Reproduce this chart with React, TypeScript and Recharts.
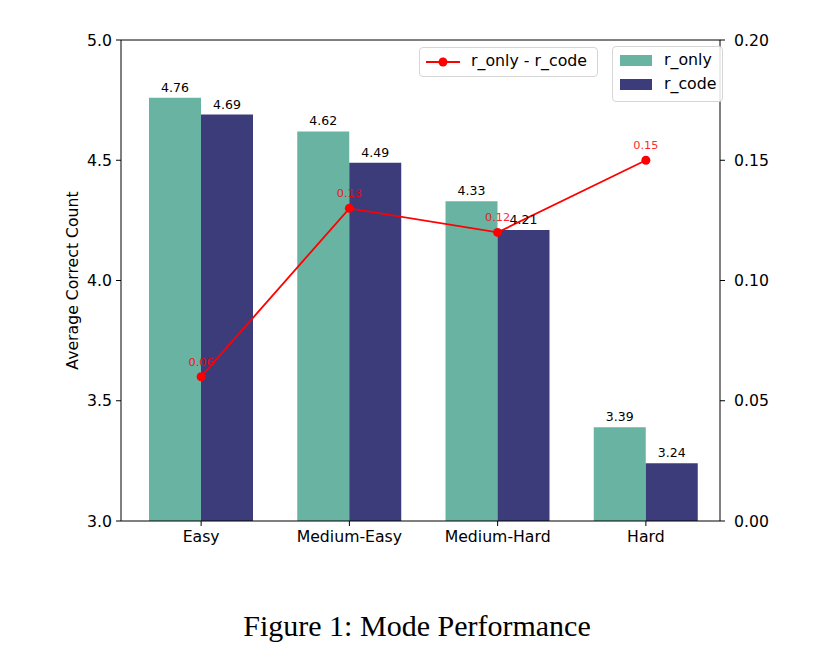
import React from 'react';
import {
  ComposedChart,
  Bar,
  Line,
  XAxis,
  YAxis,
  LabelList,
  Legend,
  ReferenceLine,
} from 'recharts';

const categories = ['Easy', 'Medium-Easy', 'Medium-Hard', 'Hard'];
const rOnly = [4.76, 4.62, 4.33, 3.39];
const rCode = [4.69, 4.49, 4.21, 3.24];
const diff = [0.06, 0.13, 0.12, 0.15];
const leftTicks = [3.0, 3.5, 4.0, 4.5, 5.0];
const rightTicks = [0, 0.05, 0.1, 0.15, 0.2];

const data = categories.map((c, i) => ({
  name: c,
  r_only: rOnly[i],
  r_code: rCode[i],
  diff: diff[i],
}));

const GREEN = '#69b3a2';
const NAVY = '#3d3c7b';
const RED = '#ff0000';
const FONT = '"DejaVu Sans", sans-serif';
const TICK_FS = 15.7;

const YLabel = (props: any) => {
  const vb = props.viewBox || { x: 53, y: 32, width: 60, height: 481 };
  const cx = vb.x + 11.5;
  const cy = vb.y + vb.height / 2;
  return (
    <text
      x={cx}
      y={cy}
      transform={`rotate(-90 ${cx} ${cy})`}
      textAnchor="middle"
      dominantBaseline="central"
      fontSize={TICK_FS}
      fontFamily={FONT}
      fill="#000"
    >
      Average Correct Count
    </text>
  );
};

const legendText: React.CSSProperties = {
  position: 'absolute',
  fontFamily: FONT,
  fontSize: 15.8,
  color: '#000',
  lineHeight: '18px',
  whiteSpace: 'nowrap',
};

const renderLegend = () => (
  <div style={{ position: 'relative', width: 0, height: 0 }}>
    <div
      style={{
        position: 'absolute',
        left: 411,
        top: 39,
        width: 177,
        height: 28,
        border: '1px solid #d6d6d6',
        borderRadius: 4,
        background: 'rgba(255,255,255,0.85)',
      }}
    >
      <svg style={{ position: 'absolute', left: 0, top: 0 }} width={50} height={28}>
        <line x1={6} y1={14} x2={40} y2={14} stroke={RED} strokeWidth={1.8} />
        <circle cx={23} cy={14} r={4.5} fill={RED} />
      </svg>
      <span style={{ ...legendText, left: 51, top: 4 }}>r_only - r_code</span>
    </div>
    <div
      style={{
        position: 'absolute',
        left: 604,
        top: 38,
        width: 109,
        height: 54,
        border: '1px solid #d6d6d6',
        borderRadius: 4,
        background: 'rgba(255,255,255,0.85)',
      }}
    >
      <div style={{ position: 'absolute', left: 7, top: 8, width: 32, height: 11, background: GREEN }} />
      <div style={{ position: 'absolute', left: 7, top: 32, width: 32, height: 11, background: NAVY }} />
      <span style={{ ...legendText, left: 51, top: 4 }}>r_only</span>
      <span style={{ ...legendText, left: 51, top: 28 }}>r_code</span>
    </div>
  </div>
);

export default function App() {
  return (
    <div style={{ position: 'relative', width: 813, height: 654, background: '#fff' }}>
      <ComposedChart
        width={813}
        height={580}
        data={data}
        margin={{ top: 32, right: 41, left: 53, bottom: 37 }}
        barGap={0}
      >
        <XAxis
          dataKey="name"
          height={30}
          padding={{ left: 6, right: 0 }}
          tickSize={5}
          tickMargin={5}
          axisLine={{ stroke: '#000' }}
          tickLine={{ stroke: '#000' }}
          tick={{ fill: '#000', fontSize: TICK_FS, fontFamily: FONT }}
        />
        <YAxis
          yAxisId="left"
          orientation="left"
          width={60}
          domain={[3, 5]}
          ticks={leftTicks}
          allowDataOverflow
          tickFormatter={(v: number) => v.toFixed(1)}
          tickSize={5}
          tickMargin={4}
          axisLine={{ stroke: '#000' }}
          tickLine={{ stroke: '#000' }}
          tick={{ fill: '#000', fontSize: TICK_FS, fontFamily: FONT }}
          label={<YLabel />}
        />
        <YAxis
          yAxisId="right"
          orientation="right"
          width={60}
          domain={[0, 0.2]}
          ticks={rightTicks}
          tickFormatter={(v: number) => v.toFixed(2)}
          tickSize={5}
          tickMargin={9}
          axisLine={{ stroke: '#000' }}
          tickLine={{ stroke: '#000' }}
          tick={{ fill: '#000', fontSize: TICK_FS, fontFamily: FONT, textAnchor: 'start' }}
        />
        <ReferenceLine yAxisId="left" y={5} stroke="#000" strokeWidth={1} />
        <Bar yAxisId="left" dataKey="r_only" fill={GREEN} barSize={52} isAnimationActive={false}>
          <LabelList
            dataKey="r_only"
            position="top"
            offset={6}
            formatter={(v: any) => Number(v).toFixed(2)}
            style={{ fill: '#000', fontSize: 12.5, fontFamily: FONT }}
          />
        </Bar>
        <Bar yAxisId="left" dataKey="r_code" fill={NAVY} barSize={52} isAnimationActive={false}>
          <LabelList
            dataKey="r_code"
            position="top"
            offset={6}
            formatter={(v: any) => Number(v).toFixed(2)}
            style={{ fill: '#000', fontSize: 12.5, fontFamily: FONT }}
          />
        </Bar>
        <Line
          yAxisId="right"
          dataKey="diff"
          stroke={RED}
          strokeWidth={1.8}
          dot={{ r: 4.5, fill: RED, stroke: RED, strokeWidth: 0 }}
          activeDot={false}
          isAnimationActive={false}
        >
          <LabelList
            dataKey="diff"
            position="top"
            offset={11}
            formatter={(v: any) => Number(v).toFixed(2)}
            style={{ fill: RED, fontSize: 11.3, fontFamily: FONT, opacity: 0.85 }}
          />
        </Line>
        <Legend
          layout="vertical"
          verticalAlign="middle"
          align="center"
          content={renderLegend}
          wrapperStyle={{ position: 'absolute', left: 0, top: 0, width: 0, height: 0 }}
        />
      </ComposedChart>
      <div
        style={{
          position: 'absolute',
          left: 0,
          top: 603,
          width: 818,
          textAlign: 'center',
          fontFamily: '"Liberation Serif", "Times New Roman", serif',
          fontSize: 30,
          lineHeight: '30px',
          color: '#000',
        }}
      >
        Figure 1: Mode Performance
      </div>
    </div>
  );
}
